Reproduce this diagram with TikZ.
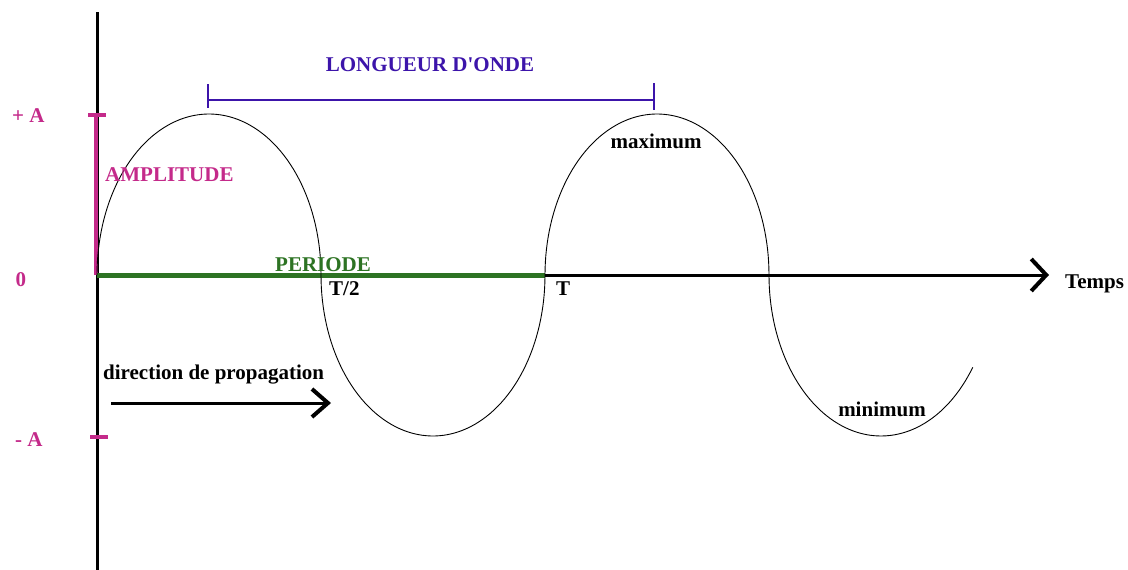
\documentclass[tikz,border=0pt]{standalone}
\usepackage{fontspec}
\setmainfont{Liberation Serif}[Ligatures=TeXOff]
\usetikzlibrary{arrows.meta}
\definecolor{magampl}{RGB}{196,42,138}
\definecolor{greenper}{RGB}{45,115,35}
\definecolor{blueonde}{RGB}{60,20,170}
\begin{document}
\begin{tikzpicture}[x=1pt,y=-1pt,
  lbl/.style={font=\fontsize{21}{25}\selectfont\bfseries, inner sep=0pt, anchor=base},
  axisline/.style={line width=3pt, black},
  chev/.style={-{Straight Barb[length=15pt,width=32pt,line width=4pt]}},
  wave/.style={line width=0.9pt, black},
  ampbar/.style={line width=4pt, magampl},
  perbar/.style={line width=5pt, greenper},
  ondebar/.style={line width=2.5pt, blueonde}]
\fill[white] (0,0) rectangle (1128,570);
\useasboundingbox (0,0) rectangle (1128,570);

% axes
\coordinate (ytop) at (97,12);
\coordinate (ybot) at (97,570);
\coordinate (orig) at (97,275);
\coordinate (xend) at (1049,275);
\draw[axisline] (ytop) -- (ybot);

% amplitude
\coordinate (ampBot) at (96,275);
\coordinate (ampTop) at (96,115);
\coordinate (tkAl) at (88,115);
\coordinate (tkAr) at (106,115);
\coordinate (tkBl) at (90,437);
\coordinate (tkBr) at (108,437);
\draw[ampbar] (ampBot) -- (ampTop);
\draw[ampbar] (tkAl) -- (tkAr);
\draw[ampbar] (tkBl) -- (tkBr);

% period
\coordinate (perEnd) at (545,275);
\draw[axisline,chev] (perEnd) -- (xend);
\draw[perbar] (orig) -- (perEnd);

% wave
\draw[wave]
  plot[domain=180:0, samples=80, variable=\t] ({209+112*cos(\t)},{275-161*sin(\t)})
  -- plot[domain=180:360, samples=80, variable=\t] ({433+112*cos(\t)},{275-161*sin(\t)})
  -- plot[domain=180:0, samples=80, variable=\t] ({657+112*cos(\t)},{275-161*sin(\t)})
  -- plot[domain=180:325, samples=70, variable=\t] ({881+112*cos(\t)},{275-161*sin(\t)});

% wavelength bracket
\coordinate (wlL) at (208,100);
\coordinate (wlR) at (654,100);
\coordinate (wlLt) at (208,84);
\coordinate (wlLb) at (208,108);
\coordinate (wlRt) at (654,83);
\coordinate (wlRb) at (654,110);
\draw[ondebar] (wlL) -- (wlR);
\draw[ondebar] (wlLt) -- (wlLb);
\draw[ondebar] (wlRt) -- (wlRb);

% propagation arrow
\coordinate (propA) at (111,403);
\coordinate (propB) at (331,403);
\draw[line width=3pt,-{Straight Barb[length=16pt,width=28pt,line width=4pt]}] (propA) -- (propB);

% labels
\node[lbl, anchor=base west] (temps) at (1065,288) {Temps};
\node[lbl, anchor=base west, text=magampl] (plusA) at (12,122) {+ A};
\node[lbl, text=magampl] (zero) at (21,286) {0};
\node[lbl, anchor=base west, text=magampl] (minusA) at (15,446) {- A};
\node[lbl, anchor=base west, text=magampl] (ampl) at (105,181) {AMPLITUDE};
\node[lbl, anchor=base west, text=greenper] (per) at (275,271) {PERIODE};
\node[lbl, anchor=base west] (thalf) at (329,295) {T/2};
\node[lbl, anchor=base west] (tfull) at (556,295) {T};
\node[lbl, text=blueonde] (onde) at (430,71) {LONGUEUR D'ONDE};
\node[lbl] (maxl) at (656,148) {maximum};
\node[lbl] (minl) at (882,416) {minimum};
\node[lbl, anchor=base west] (prop) at (103,379) {direction de propagation};
\end{tikzpicture}
\end{document}
